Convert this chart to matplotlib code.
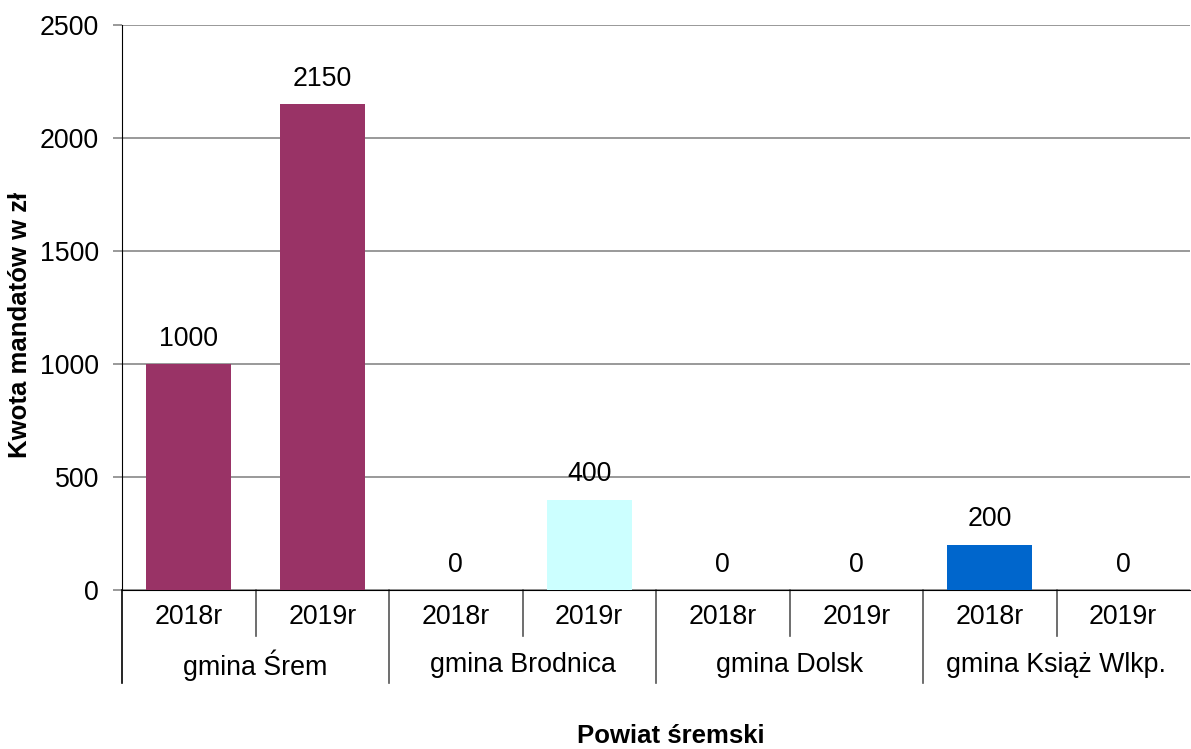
import numpy as np
import matplotlib.pyplot as plt
import matplotlib.transforms as mtransforms

plt.rcParams['font.family'] = ['Liberation Sans', 'DejaVu Sans']

# dane
gminy = ['gmina Śrem', 'gmina Brodnica', 'gmina Dolsk', 'gmina Książ Wlkp.']
lata = ['2018r', '2019r']
wartosci = [1000, 2150, 0, 400, 0, 0, 200, 0]
kolory = ['#993366', '#993366', '#993366', '#CCFFFF', '#0066CC', '#0066CC', '#0066CC', '#0066CC']

FS = 19.3
W, H = 1191, 749
fig = plt.figure(figsize=(W / 100, H / 100), dpi=100)
ax = fig.add_axes([122 / W, 1 - 590 / H, (1190 - 122) / W, (590 - 25) / H])

x = np.arange(len(wartosci))
ax.bar(x, wartosci, width=0.64, color=kolory, zorder=3)

for xi, v in zip(x, wartosci):
    ax.annotate(str(v), (xi, v), xytext=(0, 9), textcoords='offset points',
                ha='center', va='bottom', fontsize=FS)

ax.set_xlim(-0.5, len(wartosci) - 0.5)
ax.set_ylim(0, 2500)
ax.set_yticks(np.arange(0, 2501, 500))
ax.yaxis.grid(True, color='#888888', linewidth=1.2, zorder=0)
ax.tick_params(axis='y', labelsize=FS, length=6.5, width=1.2, color='#888888', pad=10)
ax.tick_params(axis='x', length=0, labelbottom=False)
for s in ['top', 'right']:
    ax.spines[s].set_visible(False)

# os kategorii dwupoziomowa
tr = mtransforms.blended_transform_factory(ax.transData, ax.transAxes)
for i in range(len(wartosci)):
    ax.text(i, -0.048, lata[i % 2], transform=tr, ha='center', va='center', fontsize=FS)
for g, name in enumerate(gminy):
    ax.text(2 * g + 0.5, -0.133, name, transform=tr, ha='center', va='center', fontsize=FS)
for i in range(len(wartosci)):
    xb = i - 0.5
    dol = -0.165 if i % 2 == 0 else -0.082
    ax.plot([xb, xb], [0, dol], transform=tr, color='black' if i == 0 else '#555555',
            linewidth=1.2, clip_on=False)

fig.text(20 / W, 1 - 325 / H, 'Kwota mandatów w zł', rotation=90, ha='center', va='center',
         fontsize=18.5, fontweight='bold')
fig.text(671 / W, 1 - 736 / H, 'Powiat śremski', ha='center', va='center',
         fontsize=18.5, fontweight='bold')

fig.savefig('out.png', dpi=100)
